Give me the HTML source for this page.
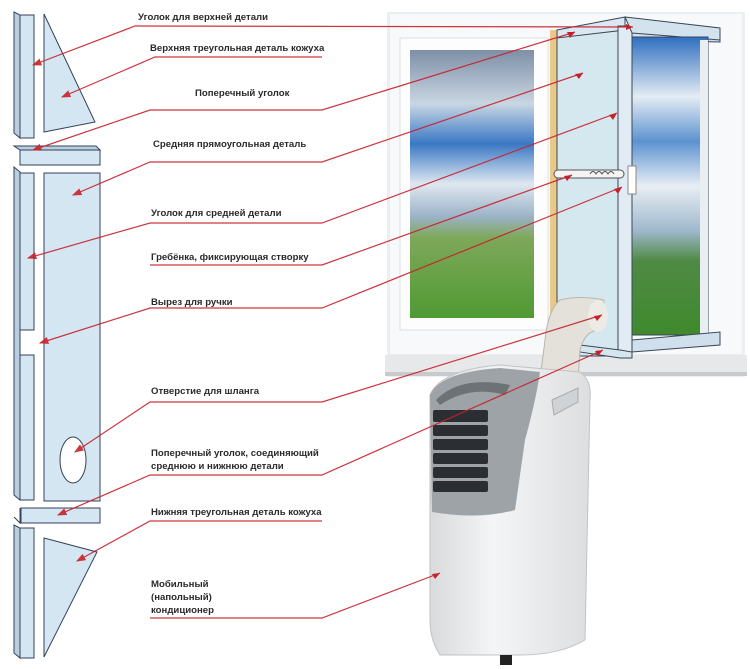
<!DOCTYPE html>
<html><head><meta charset="utf-8"><style>
html,body{margin:0;padding:0;background:#fff;}
svg{display:block}
text{font-family:"Liberation Sans",sans-serif;font-weight:bold;font-size:9.6px;fill:#2a2a2a;}
</style></head><body>
<svg width="750" height="669" viewBox="0 0 750 669" xmlns="http://www.w3.org/2000/svg">
<defs>
<linearGradient id="sky" x1="0" y1="0" x2="0" y2="1">
<stop offset="0" stop-color="#7e8fa6"/><stop offset="0.2" stop-color="#c9d6e3"/><stop offset="0.35" stop-color="#3a78c4"/><stop offset="0.5" stop-color="#dfe8f0"/><stop offset="0.62" stop-color="#9cb3c9"/><stop offset="0.7" stop-color="#7ea85a"/><stop offset="1" stop-color="#4f9a32"/>
</linearGradient>
<linearGradient id="sky2" x1="0" y1="0" x2="0" y2="1">
<stop offset="0" stop-color="#2f6fc0"/><stop offset="0.2" stop-color="#e4ecf3"/><stop offset="0.35" stop-color="#5c92d0"/><stop offset="0.5" stop-color="#e8eef4"/><stop offset="0.65" stop-color="#9fb8cc"/><stop offset="0.75" stop-color="#4f8a45"/><stop offset="1" stop-color="#3f8a2c"/>
</linearGradient>
<linearGradient id="ac" x1="0" y1="0" x2="1" y2="0">
<stop offset="0" stop-color="#d8dadc"/><stop offset="0.4" stop-color="#f4f5f6"/><stop offset="1" stop-color="#dcdedf"/>
</linearGradient>
<marker id="ar" markerWidth="8" markerHeight="6" refX="7" refY="3" orient="auto"><path d="M0,0 L8,3 L0,6 z" fill="#c8202a"/></marker>
</defs>

<!-- window -->
<rect x="387" y="12" width="358" height="365" fill="#eceff1"/>
<rect x="390" y="14" width="352" height="340" fill="#f8f9fa"/>
<rect x="385" y="355" width="362" height="20" fill="#e6e8ea"/>
<rect x="385" y="372" width="362" height="4" fill="#c8cbce"/>
<rect x="400" y="38" width="148" height="292" fill="#fdfdfd" stroke="#dcdfe2"/>
<rect x="410" y="50" width="124" height="268" fill="url(#sky)"/>
<rect x="550" y="30" width="8" height="320" fill="#e9c98a"/>
<!-- insert panel -->
<rect x="557" y="30" width="62" height="326" fill="#d6e8ef" stroke="#3b4658" stroke-width="1"/>
<path d="M557,30 L625,17 L625,30 L557,38 z" fill="#dbe8f1" stroke="#3b4658"/>
<rect x="618" y="26" width="14" height="329" fill="#e0ebf3" stroke="#3b4658"/>
<!-- open sash -->
<path d="M632,30 L720,30 L720,42 L632,40 z" fill="#cfe0ec" stroke="#3b4658"/>
<path d="M625,17 L720,28 L720,40 L632,33 z" fill="#d3e3ee" stroke="#3b4658"/>
<rect x="632" y="37" width="76" height="298" fill="url(#sky2)" stroke="#3b4658"/>
<rect x="700" y="40" width="8" height="295" fill="#e8eef2"/>
<path d="M632,340 L720,332 L720,345 L632,352 z" fill="#cfe0ec" stroke="#3b4658"/>
<path d="M580,345 L620,350 L632,352 L632,358 L620,358 L580,352z" fill="#d6e6ef" stroke="#3b4658"/>
<!-- comb -->
<rect x="554" y="170" width="70" height="8" rx="4" fill="#f4f4f4" stroke="#555"/>
<path d="M590,174 q3,-5 6,0 q3,-5 6,0 q3,-5 6,0 q3,-5 6,0" fill="none" stroke="#555"/>
<rect x="628" y="166" width="8" height="28" fill="#fff" stroke="#888"/>
<!-- hose -->
<path d="M560,300 Q548,310 545,340 L540,380 L578,380 L580,350 Q585,330 600,330 L604,300 Q580,295 560,300z" fill="#e4e1da" stroke="#b8b5ad"/>
<ellipse cx="598" cy="316" rx="10" ry="16" fill="#ecebe6"/>
<!-- AC unit -->
<path d="M430,395 Q440,370 500,365 L580,372 Q592,380 590,400 L585,640 Q560,655 520,655 L440,655 Q430,640 430,620 z" fill="url(#ac)" stroke="#c0c3c6"/>
<path d="M430,395 Q440,372 500,368 L540,372 Q536,400 525,440 L515,510 Q480,520 432,512 z" fill="#9ea3a8"/>
<path d="M436,400 Q460,375 510,385 L505,395 Q470,385 440,405z" fill="#6d7277"/>
<g fill="#2b2e33">
<rect x="433" y="410" width="55" height="12" rx="2"/><rect x="433" y="425" width="55" height="11" rx="2"/><rect x="433" y="439" width="55" height="11" rx="2"/><rect x="433" y="453" width="55" height="11" rx="2"/><rect x="433" y="467" width="55" height="11" rx="2"/><rect x="433" y="481" width="55" height="11" rx="2"/>
</g>
<path d="M552,400 L578,388 L578,402 L554,415z" fill="#d0d3d6" stroke="#aaa"/>
<rect x="500" y="655" width="12" height="10" fill="#222"/>

<!-- left parts -->
<g fill="#d4e6f1" stroke="#34425a" stroke-width="1">
<path d="M14,12 L20,15 L20,138 L14,133 z" fill="#b9cfe0"/>
<rect x="20" y="15" width="14" height="123"/>
<path d="M44,14 L95,122 L44,132 z"/>
<path d="M14,146 L96,146 L100,150 L20,150 z" fill="#b9cfe0"/>
<rect x="20" y="150" width="80" height="15"/>
<path d="M14,167 L20,172 L20,500 L14,495 z" fill="#b9cfe0"/>
<rect x="20" y="173" width="14" height="157"/>
<rect x="20" y="355" width="14" height="145"/>
<rect x="44" y="173" width="56" height="328"/>
<ellipse cx="73" cy="460" rx="13" ry="23" fill="#fff"/>
<path d="M14,517 L20,523 L20,508" fill="none"/>
<rect x="21" y="508" width="79" height="15"/>
<path d="M14,525 L20,528 L20,658 L14,653 z" fill="#b9cfe0"/>
<rect x="20" y="528" width="14" height="130"/>
<path d="M44,538 L97,552 L44,657 z"/>
</g>

<!-- connectors -->
<g stroke="#c8202a" stroke-width="1.2" fill="none" opacity="0.9">
<path d="M633,27 L135,26 L33,65" marker-end="url(#ar)"/>
<path d="M322,57 L155,57 L62,97" marker-end="url(#ar)"/>
<path d="M575,32 L322,110 L150,110 L33,150" marker-end="url(#ar)"/>
<path d="M583,73 L322,162 L150,162 L73,195" marker-end="url(#ar)"/>
<path d="M617,113 L322,223 L150,223 L28,258" marker-end="url(#ar)"/>
<path d="M572,175 L322,265 L150,265"/>
<path d="M622,187 L322,308 L150,308 L40,343" marker-end="url(#ar)"/>
<path d="M602,315 L322,402 L150,402 L75,452" marker-end="url(#ar)"/>
<path d="M603,350 L322,475 L150,475 L58,515" marker-end="url(#ar)"/>
<path d="M322,521 L150,521 L77,561" marker-end="url(#ar)"/>
<path d="M440,573 L322,618 L150,618"/>
</g>
<g fill="#c8202a">
<path d="M633,27 l-7,-3 l0,6z"/>
<path d="M575,32 l-8,0 l3,6z"/>
<path d="M583,73 l-8,1 l4,5z"/>
<path d="M617,113 l-8,2 l4,5z"/>
<path d="M572,175 l-8,1 l3,5z"/>
<path d="M622,187 l-8,2 l4,5z"/>
<path d="M602,315 l-8,1 l3,5z"/>
<path d="M603,350 l-8,1 l3,5z"/>
<path d="M440,573 l-8,1 l3,5z"/>
</g>

<!-- labels -->
<text x="138" y="20">Уголок для верхней детали</text>
<text x="150" y="51">Верхняя треугольная деталь кожуха</text>
<text x="195" y="96">Поперечный уголок</text>
<text x="153" y="147">Средняя прямоугольная деталь</text>
<text x="151" y="216">Уголок для средней детали</text>
<text x="151" y="260">Гребёнка, фиксирующая створку</text>
<text x="151" y="305">Вырез для ручки</text>
<text x="151" y="394">Отверстие для шланга</text>
<text x="151" y="456">Поперечный уголок, соединяющий</text>
<text x="151" y="469">среднюю и нижнюю детали</text>
<text x="151" y="515">Нижняя треугольная деталь кожуха</text>
<text x="151" y="587">Мобильный</text>
<text x="151" y="600">(напольный)</text>
<text x="151" y="613">кондиционер</text>
</svg>
</body></html>
